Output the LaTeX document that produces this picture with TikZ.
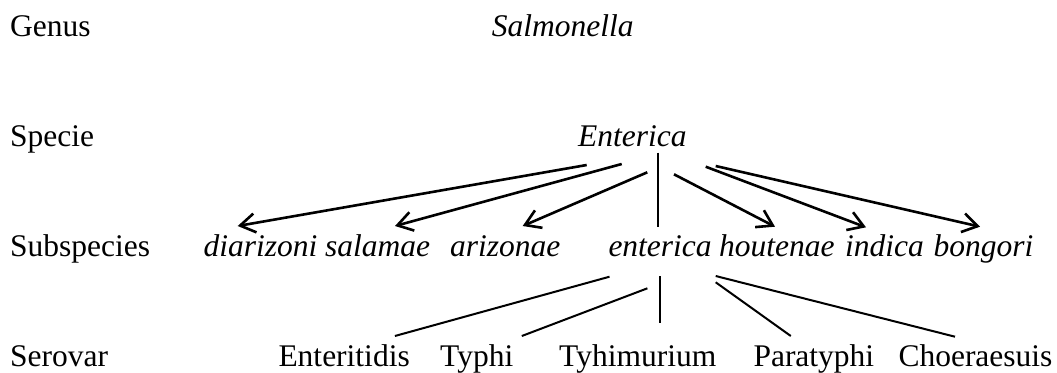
\documentclass[tikz,border=0pt]{standalone}
\usepackage{fontspec}
\setmainfont{Liberation Serif}
\usetikzlibrary{arrows.meta}
\begin{document}
\begin{tikzpicture}[x=1bp,y=-1bp,
  lbl/.style={anchor=base west,inner sep=0pt,font=\fontsize{31.5bp}{38bp}\selectfont},
  itl/.style={lbl,font=\fontsize{31.5bp}{38bp}\selectfont\itshape},
  arr/.style={line width=2.6bp,-{Straight Barb[length=15bp,width=19bp,line width=2.6bp]}},
  ln/.style={line width=2bp}]
\useasboundingbox (0,0) rectangle (1057,372);
% row labels
\node[lbl] (genus) at (10,36) {Genus};
\node[lbl] (specie) at (10,146) {Specie};
\node[lbl] (subsp) at (10,256.7) {Subspecies};
\node[lbl] (serovar) at (10,366) {Serovar};
% genus / species
\node[itl] (salm) at (491.7,36) {Salmonella};
\node[itl] (ent) at (578,146) {Enterica};
% subspecies
\node[itl] (diar) at (203.3,256.7) {diarizoni};
\node[itl] (sala) at (325,256.7) {salamae};
\node[itl] (ariz) at (450,256.7) {arizonae};
\node[itl] (ente) at (608.3,256.7) {enterica};
\node[itl] (hout) at (719,256.7) {houtenae};
\node[itl] (indi) at (845,256.7) {indica};
\node[itl] (bong) at (933.3,256.7) {bongori};
% serovars
\node[lbl] (sEnt) at (278.3,366) {Enteritidis};
\node[lbl] (sTyp) at (440,366) {Typhi};
\node[lbl] (sTyh) at (559,366) {Tyhimurium};
\node[lbl] (sPar) at (753.3,366) {Paratyphi};
\node[lbl] (sCho) at (898.3,366) {Choeraesuis};
% arrow end points
\coordinate (a1s) at (586.7,165);   \coordinate (a1e) at (237.7,226);
\coordinate (a2s) at (621.7,164);   \coordinate (a2e) at (395,226);
\coordinate (a3s) at (647.3,172.3); \coordinate (a3e) at (522.7,226);
\coordinate (vs) at (658,152.7);    \coordinate (ve) at (658,226.7);
\coordinate (a4s) at (674,174.3);   \coordinate (a4e) at (775,226.7);
\coordinate (a5s) at (705.7,166.7); \coordinate (a5e) at (866,227.3);
\coordinate (a6s) at (715.7,166);   \coordinate (a6e) at (980,226.7);
\draw[arr] (a1s) -- (a1e);
\draw[arr] (a2s) -- (a2e);
\draw[arr] (a3s) -- (a3e);
\draw[ln] (vs) -- (ve);
\draw[arr] (a4s) -- (a4e);
\draw[arr] (a5s) -- (a5e);
\draw[arr] (a6s) -- (a6e);
% serovar lines
\coordinate (l1s) at (609.5,276.7); \coordinate (l1e) at (394.9,336);
\coordinate (l2s) at (647.4,288.3); \coordinate (l2e) at (521.8,336);
\coordinate (l3s) at (660,276);     \coordinate (l3e) at (660,323.3);
\coordinate (l4s) at (715.7,282.3); \coordinate (l4e) at (790.8,336);
\coordinate (l5s) at (715.7,276);   \coordinate (l5e) at (955,336.7);
\draw[ln] (l1s) -- (l1e);
\draw[ln] (l2s) -- (l2e);
\draw[ln] (l3s) -- (l3e);
\draw[ln] (l4s) -- (l4e);
\draw[ln] (l5s) -- (l5e);
\end{tikzpicture}
\end{document}
